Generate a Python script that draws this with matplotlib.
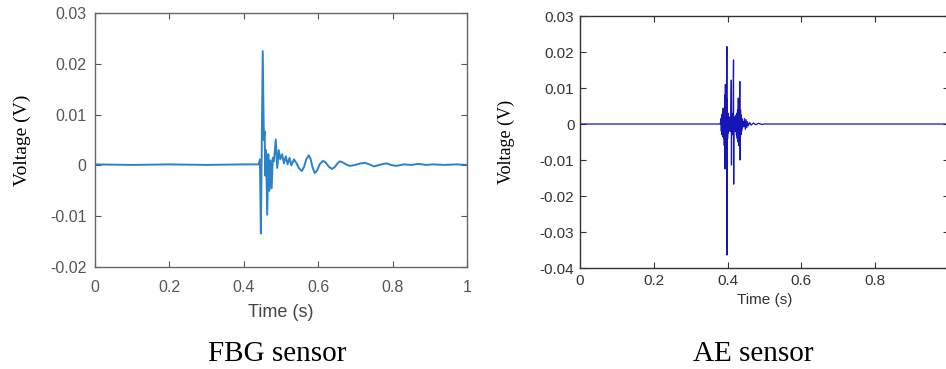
import matplotlib
matplotlib.use("Agg")
import matplotlib.pyplot as plt

# FBG sensor signal: (time s, voltage V)
fbg_t = [0.000, 0.100, 0.200, 0.300, 0.400, 0.440, 0.4435, 0.446, 0.451, 0.454,
         0.456, 0.458, 0.460, 0.463, 0.466, 0.469, 0.472, 0.475, 0.478, 0.481,
         0.486, 0.490, 0.494, 0.498, 0.503, 0.508, 0.513, 0.518, 0.523, 0.528,
         0.535, 0.542, 0.549, 0.556, 0.562, 0.568, 0.575, 0.580, 0.585, 0.591,
         0.597, 0.604, 0.613, 0.620, 0.628, 0.637, 0.645, 0.652, 0.658, 0.666,
         0.675, 0.685, 0.700, 0.714, 0.726, 0.738, 0.750, 0.765, 0.775, 0.784,
         0.795, 0.810, 0.830, 0.850, 0.870, 0.890, 0.910, 0.940, 0.970, 1.000]
fbg_v = [0.0002, 0.0001, 0.0002, 0.0001, 0.0002, 0.0002, 0.0012, -0.0134, 0.0225, 0.0050,
         0.0067, -0.0020, 0.0030, -0.0097, 0.0022, -0.0050, 0.0010, -0.0045, 0.0015, 0.0008,
         0.0051, -0.0005, 0.0030, 0.0012, 0.0022, 0.0004, 0.0018, 0.0002, 0.0015, 0.0000,
         0.0012, 0.0004, -0.0006, -0.0011, -0.0003, 0.0012, 0.0020, 0.0012, -0.0004, -0.0015,
         -0.0010, 0.0002, 0.0009, 0.0006, -0.0002, -0.0007, -0.0003, 0.0004, 0.0008, 0.0006,
         0.0002, -0.0001, 0.0001, 0.0004, 0.0005, 0.0002, -0.0002, 0.0001, 0.0003, 0.0004,
         0.0001, -0.0001, 0.0002, 0.0001, 0.0003, 0.0001, 0.0002, 0.0001, 0.0002, 0.0001]

# AE sensor signal: (time s, voltage V)
ae_t = [0.000, 0.380, 0.382, 0.383, 0.384, 0.385, 0.386, 0.387, 0.388, 0.389,
        0.390, 0.391, 0.392, 0.393, 0.394, 0.395, 0.396, 0.397, 0.398, 0.3985,
        0.399, 0.400, 0.401, 0.402, 0.403, 0.404, 0.405, 0.406, 0.407, 0.408,
        0.409, 0.410, 0.4105, 0.411, 0.412, 0.413, 0.414, 0.415, 0.416, 0.4165,
        0.417, 0.418, 0.419, 0.420, 0.421, 0.422, 0.423, 0.424, 0.425, 0.426,
        0.427, 0.428, 0.429, 0.430, 0.431, 0.432, 0.433, 0.434, 0.435, 0.436,
        0.437, 0.438, 0.439, 0.440, 0.442, 0.444, 0.446, 0.448, 0.450, 0.452,
        0.454, 0.456, 0.460, 0.464, 0.470, 0.476, 0.484, 0.492, 0.500, 1.000]
ae_v = [0.0, 0.0, 0.0015, -0.002, 0.0025, -0.003, 0.003, -0.0035, 0.0044, -0.004,
        0.0035, -0.006, 0.008, -0.0125, 0.011, -0.008, 0.006, -0.005, 0.0215, -0.0364,
        0.007, -0.004, 0.003, -0.0025, 0.002, -0.002, 0.0015, -0.0015, 0.002, -0.002,
        0.003, 0.0122, -0.0114, 0.003, -0.002, 0.002, -0.003, 0.004, 0.0178, -0.0167,
        0.002, -0.002, 0.0015, -0.0015, 0.002, -0.002, 0.0025, -0.003, 0.003, -0.004,
        0.004, -0.005, 0.0072, -0.006, 0.005, -0.0045, 0.0118, -0.010, 0.004, -0.003,
        0.0025, -0.002, 0.0015, -0.0012, 0.0008, -0.0008, 0.0015, -0.0015, 0.0012, -0.001,
        0.0006, -0.0005, 0.0004, -0.0003, 0.0003, -0.0002, 0.0002, -0.0001, 0.0, 0.0]

fbg_yticks = [-0.02, -0.01, 0, 0.01, 0.02, 0.03]
ae_yticks = [-0.04, -0.03, -0.02, -0.01, 0, 0.01, 0.02, 0.03]
fbg_xticks = [0, 0.2, 0.4, 0.6, 0.8, 1]
ae_xticks = [0, 0.2, 0.4, 0.6, 0.8]

SANS = "Liberation Sans"
SERIF = "Liberation Serif"

fig = plt.figure(figsize=(9.46, 3.69), dpi=100)

def fmt(v):
    return "0" if v == 0 else ("%g" % v)

# ---- FBG panel ----
ax1 = fig.add_axes([0.1004, 0.2764, 0.3932, 0.6883])
ax1.plot(fbg_t, fbg_v, color="#2c82c6", linewidth=1.4)
ax1.set_xlim(0, 1)
ax1.set_ylim(-0.02, 0.03)
ax1.set_xticks(fbg_xticks)
ax1.set_xticklabels([fmt(v) for v in fbg_xticks], family=SANS, fontsize=11.5)
ax1.set_yticks(fbg_yticks)
ax1.set_yticklabels([fmt(v) for v in fbg_yticks], family=SANS, fontsize=11.5)
ax1.tick_params(direction="in", top=True, right=True, length=4, width=0.8,
                colors="#555555", pad=6)
ax1.tick_params(axis="x", pad=9)
for s in ax1.spines.values():
    s.set_color("#666666")
    s.set_linewidth(1.0)
ax1.set_xlabel("Time (s)", fontsize=13, family=SANS, color="#444444", labelpad=7)
ax1.set_ylabel("Voltage (V)", fontsize=14, family=SERIF, labelpad=14)

# ---- AE panel ----
ax2 = fig.add_axes([0.6131, 0.2737, 0.3901, 0.6829])
ax2.plot(ae_t, ae_v, color="#1616b8", linewidth=0.9)
ax2.set_xlim(0, 1)
ax2.set_ylim(-0.04, 0.03)
ax2.set_xticks(ae_xticks)
ax2.set_xticklabels([fmt(v) for v in ae_xticks], family=SANS, fontsize=11)
ax2.set_yticks(ae_yticks)
ax2.set_yticklabels([fmt(v) for v in ae_yticks], family=SANS, fontsize=11)
ax2.tick_params(direction="in", top=True, right=True, length=4, width=0.8,
                colors="#333333", pad=4)
for s in ax2.spines.values():
    s.set_color("#333333")
    s.set_linewidth(1.0)
ax2.set_xlabel("Time (s)", fontsize=11, family=SANS, color="#333333", labelpad=4)
ax2.set_ylabel("Voltage (V)", fontsize=13, family=SERIF, labelpad=18)

# captions
fig.text(0.293, 0.041, "FBG sensor", ha="center", va="center",
         family=SERIF, fontsize=21)
fig.text(0.796, 0.041, "AE sensor", ha="center", va="center",
         family=SERIF, fontsize=21)

fig.savefig("out.png", dpi=100)
